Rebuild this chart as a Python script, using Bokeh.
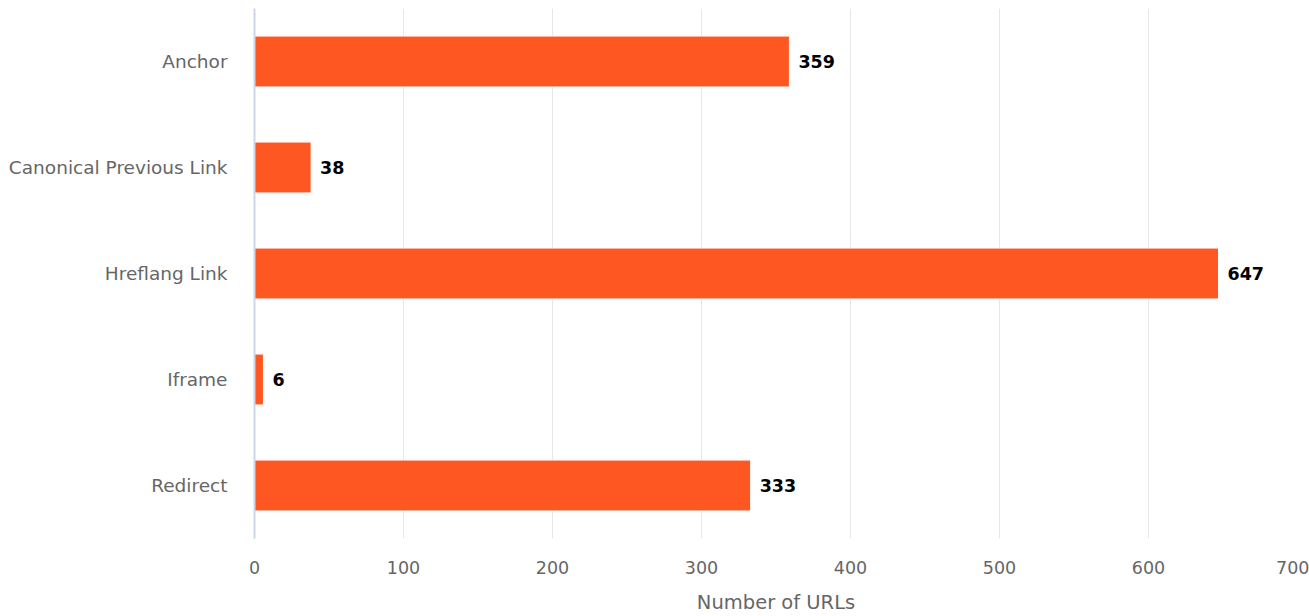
from bokeh.plotting import figure
from bokeh.models import ColumnDataSource, FixedTicker, Range1d, LabelSet
from bokeh.core.properties import value
from bokeh.embed import file_html
from bokeh.resources import INLINE

categories = ["Anchor", "Canonical Previous Link", "Hreflang Link", "Iframe", "Redirect"]
values = [359, 38, 647, 6, 333]
x_ticks = [0, 100, 200, 300, 400, 500, 600, 700]

FONT = "DejaVu Sans"

src = ColumnDataSource(dict(cat=categories, val=values, lab=[str(v) for v in values]))

p = figure(width=1309, height=616, y_range=list(reversed(categories)),
           x_range=Range1d(0, 700), output_backend="svg", toolbar_location=None,
           min_border_left=254, min_border_right=12, min_border_top=8, min_border_bottom=76)
p.outline_line_color = None
p.background_fill_color = "white"

p.hbar(y="cat", right="val", left=0, height=0.48, source=src,
       fill_color="#FF5722", line_color="white", line_width=1)

labels = LabelSet(x="val", y="cat", text="lab", source=src, x_offset=9,
                  text_baseline="middle", text_font=value(FONT), text_font_size=value("17.5px"),
                  text_font_style="bold", text_color="#000000")
p.add_layout(labels)

p.xaxis.ticker = FixedTicker(ticks=x_ticks)
p.xaxis.axis_line_color = None
p.xaxis.major_tick_line_color = None
p.xaxis.minor_tick_line_color = None
p.xaxis.major_label_text_font = FONT
p.xaxis.major_label_text_font_size = "17.5px"
p.xaxis.major_label_text_color = "#666666"
p.xaxis.major_label_standoff = 16
p.xaxis.axis_label = "Number of URLs"
p.xaxis.axis_label_text_font = FONT
p.xaxis.axis_label_text_font_size = "19.5px"
p.xaxis.axis_label_text_font_style = "normal"
p.xaxis.axis_label_text_color = "#666666"
p.xaxis.axis_label_standoff = 14

p.yaxis.axis_line_color = "#ccd6eb"
p.yaxis.axis_line_width = 2
p.yaxis.major_tick_line_color = None
p.yaxis.minor_tick_line_color = None
p.yaxis.major_label_text_font = FONT
p.yaxis.major_label_text_font_size = "18.5px"
p.yaxis.major_label_text_color = "#666666"
p.yaxis.major_label_standoff = 21

p.xgrid.grid_line_color = "#e6e6e6"
p.ygrid.grid_line_color = None

open("out.html", "w").write(file_html(p, INLINE))
